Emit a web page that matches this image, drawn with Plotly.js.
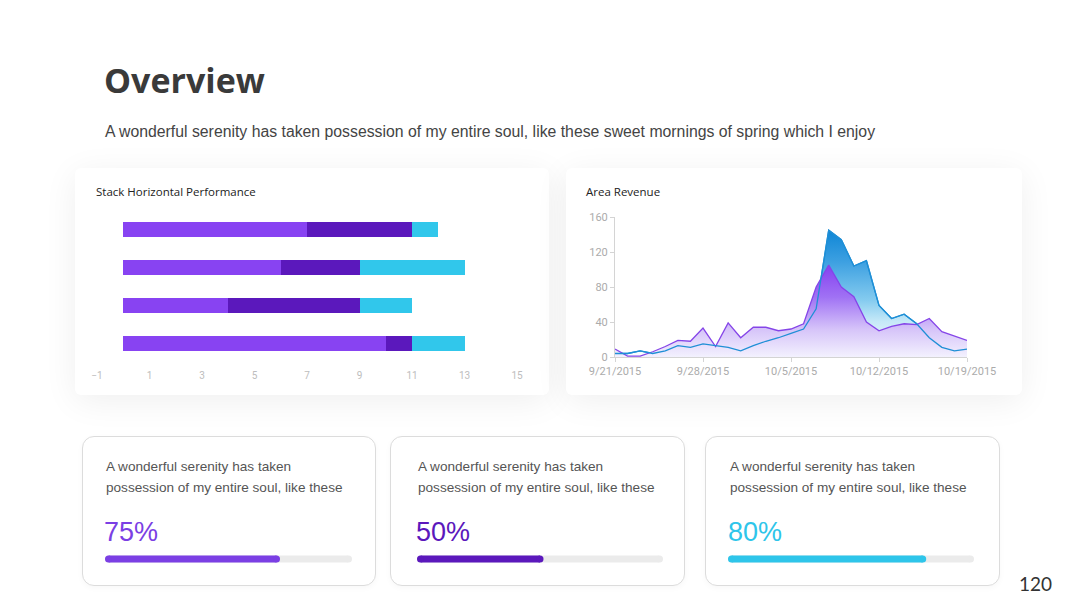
<!DOCTYPE html>
<html>
<head>
<meta charset="utf-8">
<script src="https://cdn.plot.ly/plotly-3.0.1.min.js"></script>
<style>
  html, body { margin: 0; padding: 0; background: #ffffff; width: 1080px; height: 608px; overflow: hidden; }
  .card { position: absolute; background: #ffffff; }
  .top { border-radius: 6px; box-shadow: 0 6px 34px rgba(0,0,0,0.065); }
  .bottom { border-radius: 12px; border: 1px solid #dcdcdc; box-shadow: 0 2px 6px rgba(0,0,0,0.03); box-sizing: border-box; }
  #chart { position: absolute; left: 0; top: 0; width: 1080px; height: 608px; }
</style>
</head>
<body>
<div class="card top" style="left:75px; top:168px; width:474px; height:227px;"></div>
<div class="card top" style="left:566px; top:168px; width:456px; height:227px;"></div>
<div class="card bottom" style="left:82px; top:436px; width:294px; height:150px;"></div>
<div class="card bottom" style="left:390px; top:436px; width:295px; height:150px;"></div>
<div class="card bottom" style="left:705px; top:436px; width:295px; height:150px;"></div>
<div id="chart"></div>
<script>
// ---------- Data ----------
const pageTitle = "Overview";
const pageSubtitle = "A wonderful serenity has taken possession of my entire soul, like these sweet mornings of spring which I enjoy";
const pageNumber = "120";

// Stack Horizontal Performance (categories listed bottom to top)
const barTitle = "Stack Horizontal Performance";
const barCategories = ["Item 1", "Item 2", "Item 3", "Item 4"];
const barSeries1 = [10, 4, 6, 7];
const barSeries2 = [1, 5, 3, 4];
const barSeries3 = [2, 2, 4, 1];
const barColors = ["#8843F2", "#5B18BC", "#31C7EB"];

// Area Revenue
const areaTitle = "Area Revenue";
const areaDates = [
  "2015-09-21","2015-09-22","2015-09-23","2015-09-24","2015-09-25","2015-09-26","2015-09-27",
  "2015-09-28","2015-09-29","2015-09-30","2015-10-01","2015-10-02","2015-10-03","2015-10-04",
  "2015-10-05","2015-10-06","2015-10-07","2015-10-08","2015-10-09","2015-10-10","2015-10-11",
  "2015-10-12","2015-10-13","2015-10-14","2015-10-15","2015-10-16","2015-10-17","2015-10-18",
  "2015-10-19"
];
const areaPurple = [9, 1, 1, 6, 12, 19, 18, 33, 12, 39, 22, 34, 34, 30, 32, 38, 80, 105, 80, 69, 40, 30, 35, 38, 37, 44, 29, 24, 19];
const areaBlue   = [4, 4, 7, 4, 7, 13, 11, 15, 13, 11, 7, 13, 18, 22, 27, 32, 55, 145, 134, 104, 110, 59, 44, 49, 38, 22, 11, 7, 9];
const areaTickDates = ["2015-09-21", "2015-09-28", "2015-10-05", "2015-10-12", "2015-10-19"];

// Progress cards
const cardLine1 = "A wonderful serenity has taken";
const cardLine2 = "possession of my entire soul, like these";
const progressLabels = ["75%", "50%", "80%"];
const progressValues = [70, 50, 80];
const progressColors = ["#7B3FE4", "#5B18BC", "#2EC5EA"];

// ---------- Helpers ----------
const W = 1080, H = 608;
const px = v => v / W;
const py = v => 1 - v / H;

const traces = [];

// Stacked bars
[barSeries1, barSeries2, barSeries3].forEach((vals, i) => {
  traces.push({
    type: "bar", orientation: "h",
    x: vals, y: barCategories,
    xaxis: "x", yaxis: "y",
    width: 0.4,
    marker: { color: barColors[i], line: { width: 0 } },
    hoverinfo: "x"
  });
});

// Area chart: blue fill, purple fill, then blue line on top
traces.push({
  type: "scatter", mode: "lines",
  x: areaDates, y: areaBlue, xaxis: "x2", yaxis: "y2",
  fill: "tozeroy",
  line: { color: "#1F8FD6", width: 1.3 },
  fillgradient: {
    type: "vertical", start: 0, stop: Math.max(...areaBlue),
    colorscale: [[0, "#FFFFFF"], [0.28, "#C6E9F8"], [0.45, "#84CBEF"], [0.75, "#3DA0E1"], [1, "#0E86D6"]]
  }
});
traces.push({
  type: "scatter", mode: "lines",
  x: areaDates, y: areaPurple, xaxis: "x2", yaxis: "y2",
  fill: "tozeroy",
  line: { color: "#8545E8", width: 1.3 },
  fillgradient: {
    type: "vertical", start: 0, stop: Math.max(...areaPurple),
    colorscale: [[0, "#F3F1FE"], [0.3, "#D6C4F9"], [0.65, "#A072F4"], [1, "#8540F0"]]
  }
});
traces.push({
  type: "scatter", mode: "lines",
  x: areaDates, y: areaBlue, xaxis: "x2", yaxis: "y2",
  line: { color: "#1F8FD6", width: 1.3 }, hoverinfo: "skip"
});

// Progress bars (track + fill with round caps)
progressValues.forEach((v, i) => {
  const ax = i + 3;
  traces.push({
    type: "scatter", mode: "lines+markers",
    x: [0, 100], y: [0, 0], xaxis: "x" + ax, yaxis: "y" + ax,
    line: { color: "#EBEBEB", width: 7 },
    marker: { color: "#EBEBEB", size: 7, line: { width: 0 } }, hoverinfo: "skip", cliponaxis: false
  });
  traces.push({
    type: "scatter", mode: "lines+markers",
    x: [0, v], y: [0, 0], xaxis: "x" + ax, yaxis: "y" + ax,
    line: { color: progressColors[i], width: 7 },
    marker: { color: progressColors[i], size: 7, line: { width: 0 } }, hoverinfo: "x", cliponaxis: false
  });
});

const tickFontGray = { family: "Roboto, sans-serif", size: 11, color: "#ABABAB" };

const layout = {
  width: W, height: H,
  margin: { l: 0, r: 0, t: 0, b: 0 },
  paper_bgcolor: "rgba(0,0,0,0)",
  plot_bgcolor: "rgba(0,0,0,0)",
  showlegend: false,
  barmode: "stack",
  bargap: 0.6,
  xaxis: {
    domain: [px(97), px(517)], anchor: "y",
    range: [-1, 15], tick0: -1, dtick: 2,
    showgrid: false, zeroline: false, showline: false, ticks: "",
    ticklabelstandoff: 6,
    tickfont: { family: "Roboto, sans-serif", size: 10, color: "#BDBDBD" }
  },
  yaxis: {
    domain: [py(362), py(211)], anchor: "x",
    type: "category", range: [-0.5, 3.5],
    showgrid: false, zeroline: false, showline: false, showticklabels: false, ticks: ""
  },
  xaxis2: {
    domain: [px(615), px(967)], anchor: "y2",
    type: "date", range: [areaDates[0], areaDates[areaDates.length - 1]],
    tickvals: areaTickDates, tickformat: "%-m/%-d/%Y",
    showgrid: false, zeroline: false,
    showline: true, linecolor: "#D4D4D4", linewidth: 1,
    ticks: "outside", ticklen: 4, tickcolor: "#D4D4D4",
    tickfont: tickFontGray
  },
  yaxis2: {
    domain: [py(357), py(217)], anchor: "x2",
    range: [0, 160], dtick: 40,
    showgrid: false, zeroline: false,
    showline: true, linecolor: "#D4D4D4", linewidth: 1,
    ticks: "outside", ticklen: 4, tickcolor: "#D4D4D4",
    tickfont: tickFontGray
  },
  annotations: [],
  hovermode: "closest"
};

// progress axes
const trackLeft = [108.5, 420.5, 731.5];
const trackRight = [348.5, 659.5, 970.5];
for (let i = 0; i < 3; i++) {
  const ax = i + 3;
  layout["xaxis" + ax] = {
    domain: [px(trackLeft[i]), px(trackRight[i])], anchor: "y" + ax,
    range: [0, 100], visible: false, fixedrange: true
  };
  layout["yaxis" + ax] = {
    domain: [py(569), py(549)], anchor: "x" + ax,
    range: [-1, 1], visible: false, fixedrange: true
  };
}

const A = layout.annotations;
A.push({ text: pageTitle, xref: "paper", yref: "paper", x: px(102), y: py(80), xanchor: "left", yanchor: "middle",
  showarrow: false, font: { family: "Open Sans, sans-serif", size: 34, color: "#3A3A3A", weight: 700 } });
A.push({ text: pageSubtitle, xref: "paper", yref: "paper", x: px(103), y: py(131), xanchor: "left", yanchor: "middle",
  showarrow: false, font: { family: "Liberation Sans, Arial, sans-serif", size: 15.8, color: "#444444" } });
A.push({ text: barTitle, xref: "paper", yref: "paper", x: px(94), y: py(191), xanchor: "left", yanchor: "middle",
  showarrow: false, font: { family: "Open Sans, sans-serif", size: 11.5, color: "#222222" } });
A.push({ text: areaTitle, xref: "paper", yref: "paper", x: px(584), y: py(191), xanchor: "left", yanchor: "middle",
  showarrow: false, font: { family: "Open Sans, sans-serif", size: 11.5, color: "#222222" } });
A.push({ text: pageNumber, xref: "paper", yref: "paper", x: px(1035), y: py(583), xanchor: "center", yanchor: "middle",
  showarrow: false, font: { family: "Lato, sans-serif", size: 19, color: "#333333" } });

const cardTextX = [104, 416, 728];
for (let i = 0; i < 3; i++) {
  A.push({ text: cardLine1, xref: "paper", yref: "paper", x: px(cardTextX[i]), y: py(466), xanchor: "left", yanchor: "middle",
    showarrow: false, font: { family: "Liberation Sans, Arial, sans-serif", size: 13.6, color: "#555555" } });
  A.push({ text: cardLine2, xref: "paper", yref: "paper", x: px(cardTextX[i]), y: py(487), xanchor: "left", yanchor: "middle",
    showarrow: false, font: { family: "Liberation Sans, Arial, sans-serif", size: 13.6, color: "#555555" } });
  A.push({ text: progressLabels[i], xref: "paper", yref: "paper", x: px(cardTextX[i] - 2), y: py(532), xanchor: "left", yanchor: "middle",
    showarrow: false, font: { family: "Liberation Sans, Arial, sans-serif", size: 27, color: progressColors[i] } });
}

Plotly.newPlot("chart", traces, layout, { displayModeBar: false, staticPlot: true });
</script>
</body>
</html>
